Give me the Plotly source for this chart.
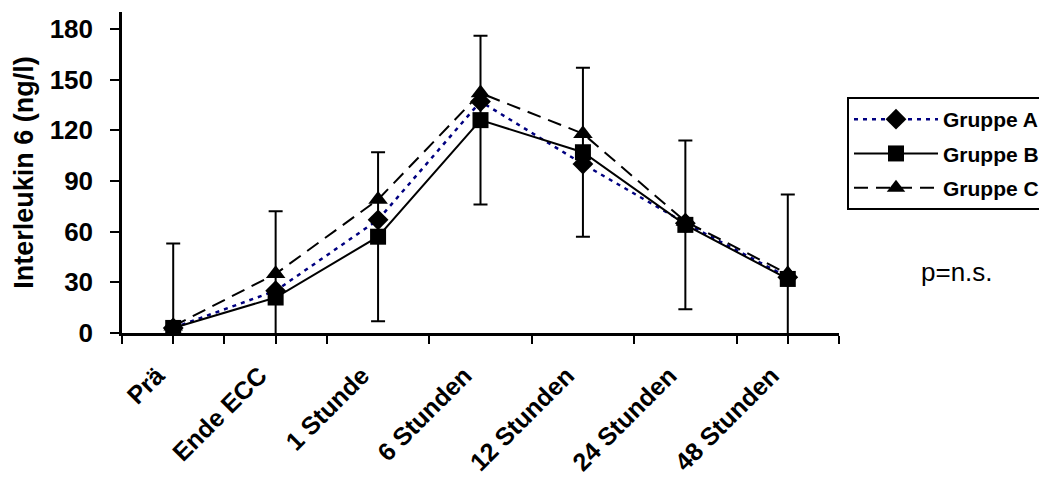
import plotly.graph_objects as go

# Zeitpunkte der Messung
categories = ["Prä", "Ende ECC", "1 Stunde", "6 Stunden", "12 Stunden", "24 Stunden", "48 Stunden"]

# Mittelwerte Interleukin 6 (ng/l)
gruppe_a = [3, 25, 67, 137, 100, 65, 33]
gruppe_b = [3, 21, 57, 126, 107, 64, 32]
gruppe_c = [4, 35, 79, 142, 118, 66, 35]

# Standardabweichung (nur Gruppe B dargestellt)
sd_b = [50, 51, 50, 50, 50, 50, 50]

y_ticks = [0, 30, 60, 90, 120, 150, 180]

FONT = "Liberation Sans, Arial, sans-serif"
idx = list(range(len(categories)))

fig = go.Figure()

fig.add_trace(go.Scatter(
    x=idx, y=gruppe_a, name="<b>Gruppe A</b>", mode="lines+markers",
    legendgroup="a",
    line=dict(color="#000080", width=2.5, dash="4px,5px"),
    marker=dict(symbol="diamond", size=16, color="black"),
))
fig.add_trace(go.Scatter(
    x=idx, y=gruppe_b, name="<b>Gruppe B</b>", mode="lines+markers",
    legendgroup="b",
    line=dict(color="black", width=2),
    marker=dict(symbol="square", size=16, color="black"),
    error_y=dict(type="data", array=sd_b, visible=True, color="black",
                 thickness=2, width=7),
))
fig.add_trace(go.Scatter(
    x=idx, y=gruppe_c, name="<b>Gruppe C</b>", mode="lines+markers",
    legendgroup="c",
    line=dict(color="black", width=2, dash="14px,8px"),
    marker=dict(symbol="triangle-up", size=17, color="black"),
))

# Teilstriche an den Kategoriegrenzen; wo der Fehlerbalken unter 0 reicht,
# erscheint sein Ende als kurzer Strich unter der Achse
boundaries = [i - 0.5 for i in range(len(categories) + 1)]
below = [i for i in idx if gruppe_b[i] - sd_b[i] < 0]
x_tickvals = boundaries + below

fig.update_layout(
    width=1039, height=477,
    margin=dict(l=122, r=200, t=12, b=144, autoexpand=False),
    paper_bgcolor="white", plot_bgcolor="white",
    font=dict(family=FONT, color="black"),
    showlegend=True,
    legend=dict(
        xref="container", yref="container",
        x=847 / 1039, y=1 - 97 / 477, xanchor="left", yanchor="top",
        bordercolor="black", borderwidth=2, bgcolor="white",
        font=dict(family=FONT, size=21, color="black"),
        itemwidth=84, traceorder="grouped", tracegroupgap=4,
    ),
    xaxis=dict(
        range=[-0.5, 6.5], tickvals=x_tickvals, ticktext=[""] * len(x_tickvals),
        ticks="outside", ticklen=8, tickwidth=2, tickcolor="black",
        showline=True, linecolor="black", linewidth=2.5,
        showgrid=False, zeroline=False, automargin=False,
    ),
    xaxis2=dict(
        overlaying="x", side="bottom", range=[-0.5, 6.5],
        tickvals=idx, ticktext=[f"<b>{c}</b>" for c in categories],
        tickangle=-45, ticks="", showline=False, showgrid=False, zeroline=False,
        tickfont=dict(family=FONT, size=25, color="black"),
        ticklabelstandoff=22, ticklabelshift=-16, automargin=False,
    ),
    yaxis=dict(
        range=[0, 190], tickvals=y_ticks, ticktext=[f"<b>{v}</b>" for v in y_ticks],
        ticks="outside", ticklen=9, tickwidth=2, tickcolor="black",
        showline=True, linecolor="black", linewidth=2.5,
        showgrid=False, zeroline=False, automargin=False,
        tickfont=dict(family=FONT, size=26, color="black"),
        ticklabelstandoff=12,
        title=dict(text="<b>Interleukin 6 (ng/l)</b>", standoff=9,
                   font=dict(family=FONT, size=27, color="black")),
    ),
)

# unsichtbare Spur, damit die Beschriftungsachse gezeichnet wird
fig.add_trace(go.Scatter(x=[0], y=[None], xaxis="x2", showlegend=False,
                         hoverinfo="skip"))

fig.add_annotation(
    text="p=n.s.", xref="paper", yref="paper", x=1.164, y=0.19,
    xanchor="center", yanchor="middle", showarrow=False,
    font=dict(family=FONT, size=26, color="black"),
)

fig.write_html("out.html")
